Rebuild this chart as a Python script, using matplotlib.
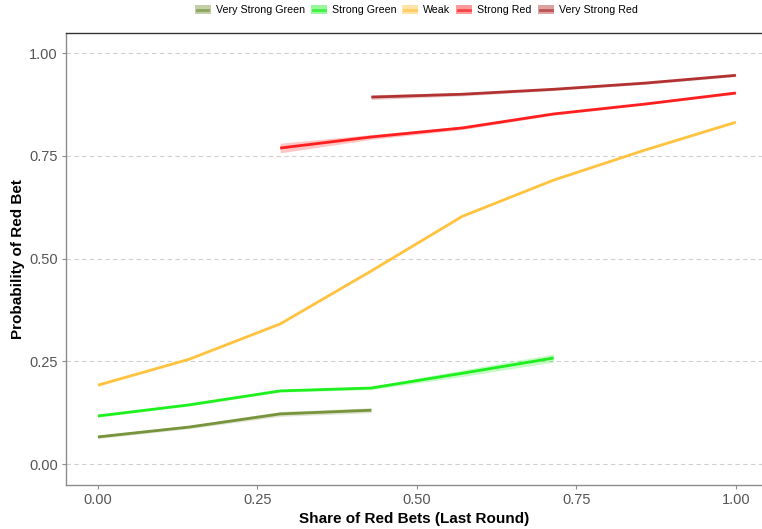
import numpy as np
import matplotlib
matplotlib.use("Agg")
import matplotlib.pyplot as plt
from matplotlib.lines import Line2D
from matplotlib.legend_handler import HandlerBase

plt.rcParams['font.family'] = ['Liberation Sans', 'DejaVu Sans']

share = [0, 1/7, 2/7, 3/7, 4/7, 5/7, 6/7, 1]

vs_green_x = share[0:4]
vs_green_y = [0.066, 0.090, 0.122, 0.131]
vs_green_se = [0.002, 0.002, 0.003, 0.003]

s_green_x = share[0:6]
s_green_y = [0.117, 0.144, 0.178, 0.185, 0.221, 0.258]
s_green_se = [0.0015, 0.0015, 0.0015, 0.002, 0.004, 0.005]

weak_x = share
weak_y = [0.192, 0.255, 0.341, 0.470, 0.603, 0.691, 0.764, 0.832]
weak_se = [0.0015, 0.001, 0.001, 0.001, 0.001, 0.001, 0.001, 0.0015]

s_red_x = share[2:]
s_red_y = [0.769, 0.796, 0.818, 0.852, 0.876, 0.903]
s_red_se = [0.006, 0.003, 0.002, 0.0015, 0.001, 0.0015]

vs_red_x = share[3:]
vs_red_y = [0.893, 0.900, 0.912, 0.927, 0.946]
vs_red_se = [0.003, 0.002, 0.0015, 0.0015, 0.0015]

labels = ["Very Strong Green", "Strong Green", "Weak", "Strong Red", "Very Strong Red"]
colors = ["#77933C", "#1EF01E", "#FFC340", "#FF1F1F", "#B23232"]
series = [
    (vs_green_x, vs_green_y, vs_green_se),
    (s_green_x, s_green_y, s_green_se),
    (weak_x, weak_y, weak_se),
    (s_red_x, s_red_y, s_red_se),
    (vs_red_x, vs_red_y, vs_red_se),
]

fig = plt.figure(figsize=(7.62, 5.29), dpi=100)
ax = fig.add_axes([66/762, 44/529, 696/762, 452/529])

for (x, y, se), c in zip(series, colors):
    x = np.array(x); y = np.array(y); se = np.array(se)
    ax.fill_between(x, y - 1.96*se, y + 1.96*se, color=c, alpha=0.25, lw=0)
    ax.plot(x, y, color=c, lw=2.0, solid_capstyle='butt')

ax.set_xlim(-0.05, 1.041)
ax.set_ylim(-0.051, 1.049)
ticks = [0, 0.25, 0.5, 0.75, 1.0]
ticklabels = ["0.00", "0.25", "0.50", "0.75", "1.00"]
ax.set_xticks(ticks)
ax.set_xticklabels(ticklabels)
ax.set_yticks(ticks)
ax.set_yticklabels(ticklabels)
ax.yaxis.grid(True, color="#d0d0d0", linestyle=(0, (4, 3)), lw=0.8)
ax.xaxis.grid(False)
ax.set_axisbelow(True)

ax.tick_params(axis='both', colors="#8c8c8c", length=3, width=0.8,
               labelsize=10.5, labelcolor="#555555", pad=3)
for side in ['left', 'bottom']:
    ax.spines[side].set_color("#8c8c8c")
    ax.spines[side].set_linewidth(1.0)
ax.spines['top'].set_color("#333333")
ax.spines['top'].set_linewidth(1.0)
ax.spines['right'].set_visible(False)

ax.set_xlabel("Share of Red Bets (Last Round)", fontsize=11, fontweight='bold', labelpad=3)
ax.set_ylabel("Probability of Red Bet", fontsize=11, fontweight='bold', labelpad=3)


class RibbonLineHandler(HandlerBase):
    def create_artists(self, legend, orig_handle, xdescent, ydescent,
                       width, height, fontsize, trans):
        c = orig_handle.get_color()
        rect = matplotlib.patches.Rectangle((-xdescent, -ydescent), width, height,
                                            facecolor=c, alpha=0.45, edgecolor='none',
                                            transform=trans)
        line = Line2D([-xdescent + 1.5, -xdescent + width - 1.5],
                      [-ydescent + height/2]*2, color=c, lw=2.0, alpha=0.7,
                      transform=trans)
        return [rect, line]


handles = [Line2D([], [], color=c) for c in colors]
leg = fig.legend(handles, labels, loc='center', bbox_to_anchor=(416/762, 1 - 10/529),
                 ncol=5, frameon=False, fontsize=7.7, handlelength=1.5, handleheight=1.0,
                 handletextpad=0.47, columnspacing=0.55,
                 handler_map={Line2D: RibbonLineHandler()})

fig.savefig("out.png", dpi=100)
